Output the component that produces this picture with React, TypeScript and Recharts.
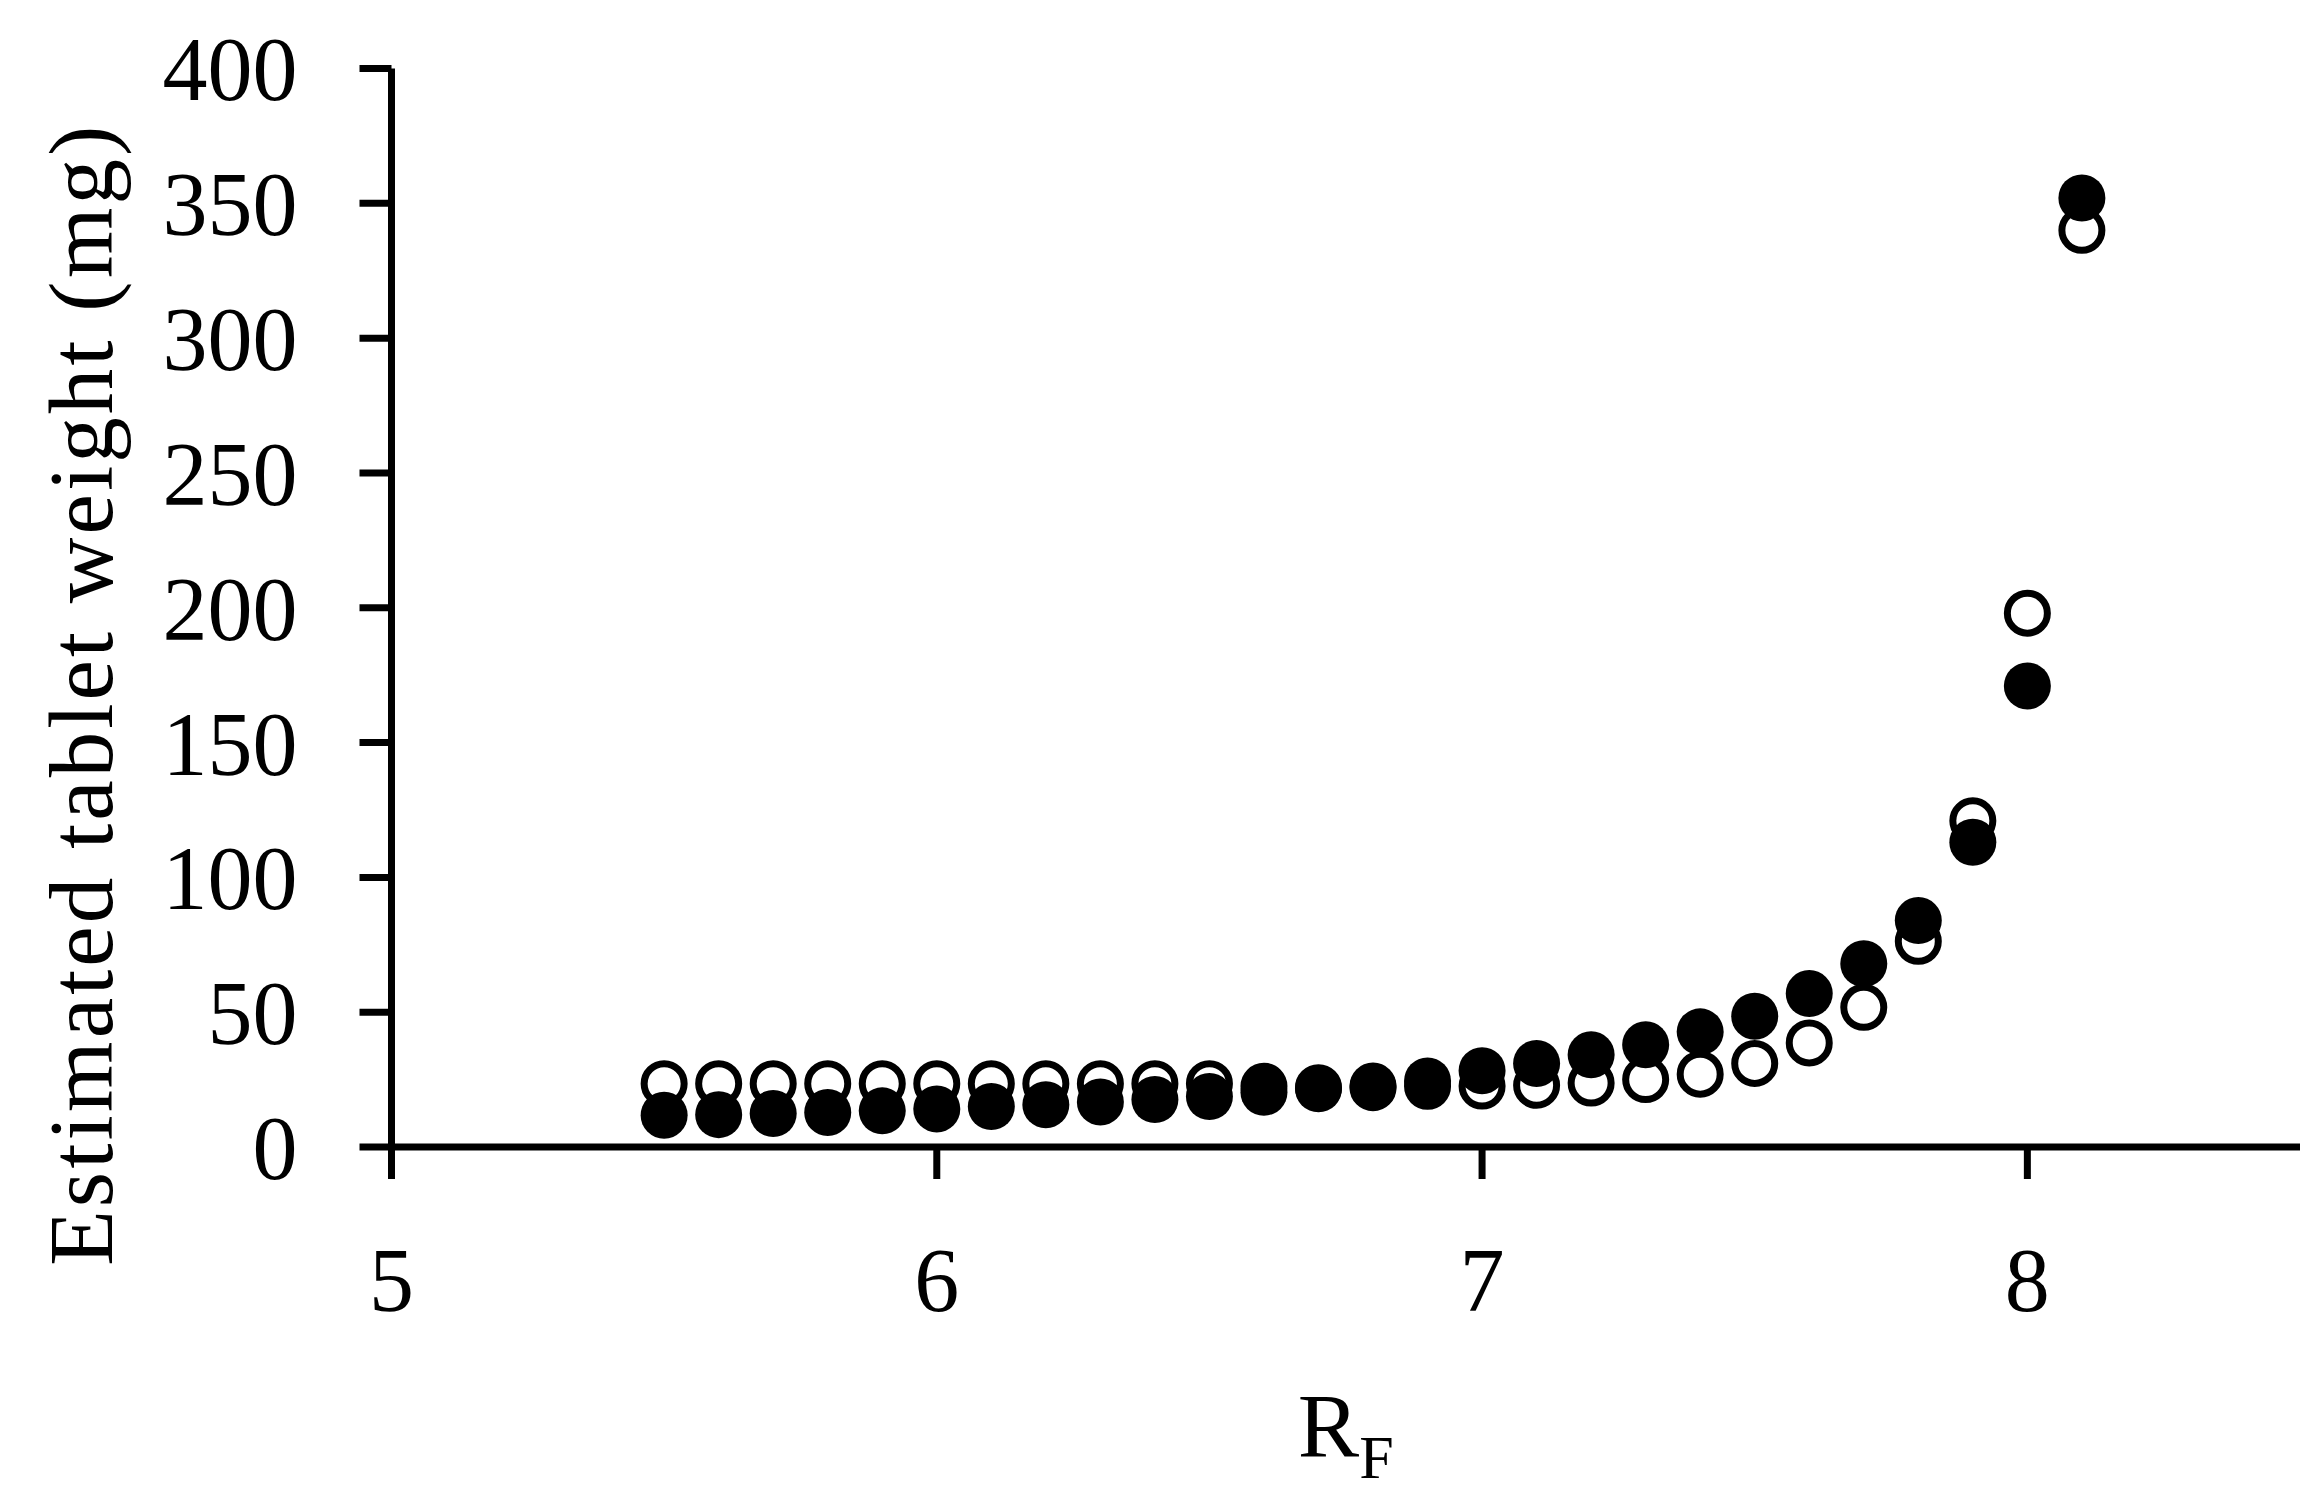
import React from 'react';
import { ScatterChart, Scatter, XAxis, YAxis } from 'recharts';

// RF values (x) shared by both series
const rfValues = [5.5, 5.6, 5.7, 5.8, 5.9, 6.0, 6.1, 6.2, 6.3, 6.4, 6.5, 6.6, 6.7, 6.8, 6.9, 7.0, 7.1, 7.2, 7.3, 7.4, 7.5, 7.6, 7.7, 7.8, 7.9, 8.0, 8.1];

// open circles
const openWeights = [23.5, 23.5, 23.5, 23.5, 23.5, 23.5, 23.5, 23.5, 23.5, 23.5, 23.5, 22.5, 22, 22, 22.5, 22.6, 22.9, 23.7, 25, 27, 31, 38.6, 51.8, 76.3, 121, 198, 340];

// filled circles
const filledWeights = [11.8, 12, 12.4, 12.8, 13.4, 14.1, 15, 15.7, 16.7, 17.6, 18.7, 20.3, 21.6, 22.6, 24.5, 28.3, 31, 34.2, 37.9, 42.7, 48.5, 56.9, 68, 84, 113, 171, 352];

const xTicks = [5, 6, 7, 8];
const yTicks = [0, 50, 100, 150, 200, 250, 300, 350, 400];

const FONT = '"Liberation Serif", "Times New Roman", serif';

const openData = rfValues.map((x, i) => ({ x, y: openWeights[i] }));
const filledData = rfValues.map((x, i) => ({ x, y: filledWeights[i] }));

const OpenDot = (props: any) => (
  <circle cx={props.cx} cy={props.cy} r={20} fill="#fff" stroke="#000" strokeWidth={7} />
);
const FilledDot = (props: any) => (
  <circle cx={props.cx} cy={props.cy} r={23.5} fill="#000" />
);

const YLabel = (props: any) => {
  const vb = props.viewBox;
  const cx = vb.x - 10;
  const cy = vb.y + vb.height / 2 + 88;
  return (
    <text
      x={cx}
      y={cy}
      transform={`rotate(-90, ${cx}, ${cy})`}
      textAnchor="middle"
      dominantBaseline="central"
      fontFamily={FONT}
      fontSize={91}
      textLength={1140}
      lengthAdjust="spacing"
      fill="#000"
    >
      Estimated tablet weight (mg)
    </text>
  );
};

const XLabel = (props: any) => {
  const vb = props.viewBox;
  const cx = vb.x + vb.width / 2;
  return (
    <text x={cx} y={1449} textAnchor="middle" fontFamily={FONT} fontSize={92} fill="#000">
      <tspan>R</tspan>
      <tspan fontSize={62} dy={21}>F</tspan>
    </text>
  );
};

export default function App() {
  const axisStyle = { stroke: '#000', strokeWidth: 7 };
  const tickStyle = { fill: '#000', fontFamily: FONT, fontSize: 90 };
  return (
    <div style={{ width: 2306, height: 1486, background: '#fff' }}>
      <ScatterChart width={2306} height={1486} margin={{ top: 60.5, right: 14, bottom: 147, left: 83.5 }}>
        <XAxis
          type="number"
          dataKey="x"
          domain={[5, 8.5]}
          ticks={xTicks}
          allowDataOverflow
          height={200}
          axisLine={axisStyle}
          tickLine={axisStyle}
          tickSize={32}
          tickMargin={68}
          tick={tickStyle}
          label={<XLabel />}
        />
        <YAxis
          type="number"
          dataKey="y"
          domain={[0, 400]}
          ticks={yTicks}
          width={300}
          axisLine={axisStyle}
          tickLine={axisStyle}
          tickSize={32}
          tickMargin={62}
          tick={tickStyle}
          label={<YLabel />}
        />
        <Scatter data={openData} shape={OpenDot} isAnimationActive={false} />
        <Scatter data={filledData} shape={FilledDot} isAnimationActive={false} />
      </ScatterChart>
    </div>
  );
}
